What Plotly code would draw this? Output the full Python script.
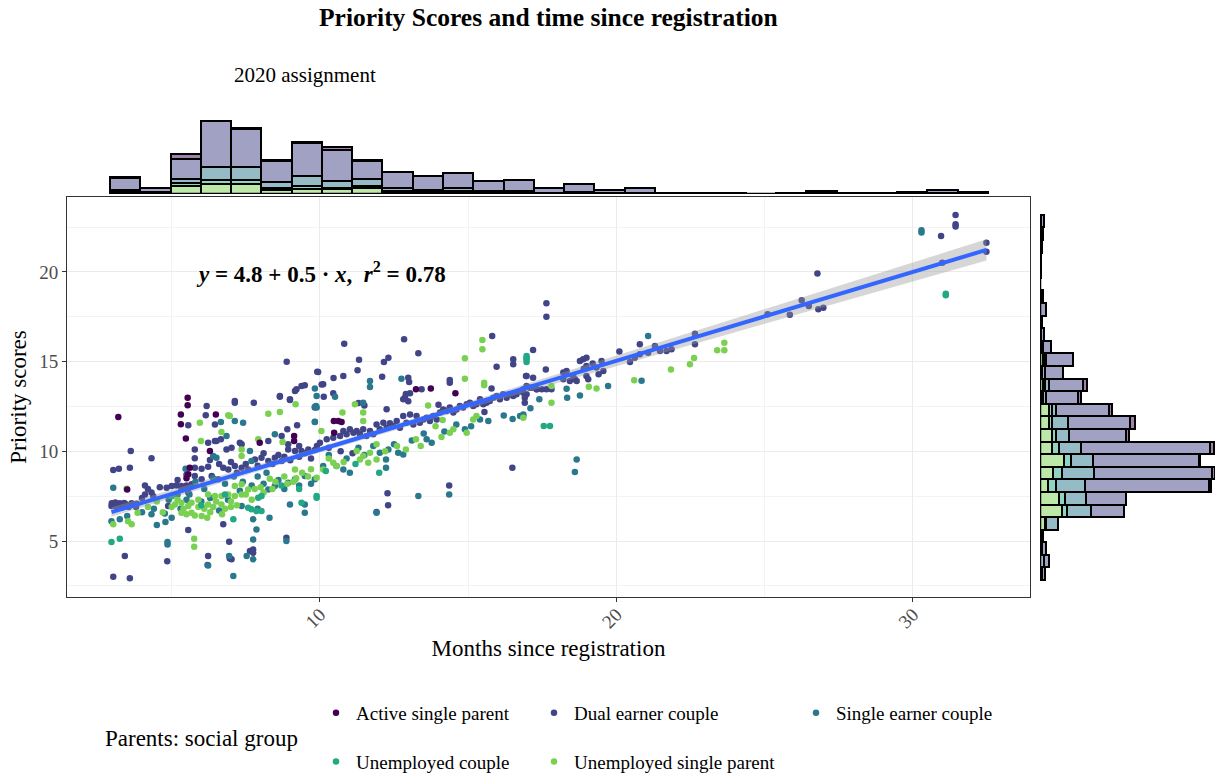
import numpy as np
import plotly.graph_objects as go

# ---------------- data ----------------
groups = ["Active single parent", "Dual earner couple", "Single earner couple",
          "Unemployed couple", "Unemployed single parent"]
group_colors = ["#440154", "#414487", "#2A788E", "#22A884", "#7AD151"]
hist_fill = ["rgba(68,1,84,0.5)", "rgba(65,68,135,0.5)", "rgba(42,120,142,0.5)",
             "rgba(34,168,132,0.5)", "rgba(122,209,81,0.5)"]

active_single_xy = [(3.2,11.92),(5.54,12.99),(5.54,12.57),(5.31,12.06),(5.31,11.51),(5.48,10.71),
    (6.49,12.06),(5.56,8.72),(5.61,9.09),(6.29,10.02),(9.13,10.86),(9.13,10.58),(3.5,7.88),(7.97,10.48),
    (10.47,11.69),(10.62,11.69),(10.73,11.64),(10.48,11.04),(13.24,13.46),(13.74,13.51),(14.57,13.24),(5.5,8.5)]

dual_earner_xy = [(3.03,3.01),(3.59,2.92),(3.42,4.16),(4.85,3.88),(6.23,4.16),(6.21,3.66),(6.96,4.03),
    (7.02,3.98),(7.64,4.44),(7.75,4.53),(6.74,5.93),(6.94,4.96),(5.56,5.61),
    (3.03,8.96),(3.22,9.03),(3.59,9.09),(3.62,10.02),(4.32,9.61),
    (2.97,6.95),(3.05,7.05),(3.15,6.9),(3.25,7.1),(3.35,6.95),(3.45,7.05),(3.55,6.9),(3.65,7.1),
    (3.75,7.0),(3.82,7.08),(3.1,7.15),(3.4,7.12),(3.0,7.0),(3.3,6.85),(3.6,7.0),(3.8,6.9),(4.0,7.4),
    (4.1,7.6),(2.98,7.1),
    (4.32,7.7),(4.38,7.5),(4.83,7.97),(5.0,8.07),(5.16,8.1),(5.33,8.07),(5.5,8.1),(5.67,8.16),(4.88,6.95),
    (5.78,9.61),(5.78,10.11),(6.23,10.48),(6.46,10.58),(6.29,9.52),(6.18,12.53),(7.13,12.81),(7.13,12.71),
    (7.77,12.71),(5.56,11.45),(6.15,12.01),(6.46,11.5),(6.51,10.58),(6.66,10.67),(6.85,10.11),(7.02,10.2),
    (6.74,9.09),(6.91,8.99),(7.13,9.18),(7.36,9.09),(7.58,8.99),
    (7.81,9.55),(8.03,9.65),(8.26,9.46),(8.48,9.65),(8.71,9.46),
    (8.93,10.11),(9.16,10.02),(9.38,10.02),(9.61,10.11),(9.83,10.07),
    (8.65,13.05),(9.16,13.37),(9.38,13.64),(9.49,13.68),(9.21,13.46),(8.99,12.86),(8.9,11.23),(9.23,11.45),
    (7.3,10.48),(7.36,10.39),(5.78,9.09),(6.01,9.03),(6.23,9.14),(5.33,7.88),(5.56,7.7),(5.78,8.62),
    (6.01,8.44),(6.35,8.62),(6.57,8.44),(8.26,10.58),(8.71,10.86),(8.93,10.39),(8.87,5.19),(7.75,4.35),
    (8.88,15.0),(9.94,14.42),(10.11,13.74),(8.65,13.08),(8.99,12.9),
    (6.6,9.3),(7.0,9.4),(7.2,8.8),(7.5,9.3),(7.9,9.2),(8.1,9.9),(8.4,9.3),(8.6,9.8),(8.8,9.7),(9.0,9.5),
    (9.3,9.7),(9.5,9.9),(9.7,9.6),(9.9,10.3),(9.3,10.3),(5.2,8.4),(5.5,8.7),(4.6,8.0),(4.2,7.9),(4.1,8.1),
    (10.82,16.0),(12.84,16.25),(13.32,15.47),(11.32,15.11),(12.16,14.98),(12.31,15.22),(9.91,14.44),
    (10.46,14.09),(10.79,14.2),(11.27,14.52),(12.1,14.16),(12.98,14.11),(13.01,13.87),(10.06,13.72),
    (10.13,13.05),(10.45,13.24),(9.83,12.44),(12.87,13.0),(13.04,13.24),(13.43,13.46),(14.38,13.98),
    (14.38,13.83),(15.81,16.43),(15.96,14.72),(16.52,15.13),(16.52,14.85),(16.95,14.2),(15.79,13.51),
    (16.49,9.09),(14.36,8.1),(12.28,7.66),(12.3,6.99),(11.91,6.62),
    (10.79,11.13),(11.01,11.23),(11.24,11.13),(11.46,11.23),(11.69,11.13),(11.91,11.5),(12.14,11.6),
    (12.36,11.56),(12.59,11.69),(12.81,11.97),(13.04,12.06),(13.26,11.97),(13.49,11.78),(13.71,11.69),
    (13.94,11.78),(14.16,12.34),(14.38,12.44),(14.61,12.34),(14.83,12.44),(15.06,12.71),(15.28,12.62),
    (15.51,12.62),(15.73,12.81),(15.96,13.09),(16.18,13.18),(16.41,13.18),(16.63,13.18),(16.86,13.27),
    (17.08,13.55),(17.31,13.46),
    (10.0,10.48),(10.23,10.67),(10.45,10.76),(10.68,10.86),(10.9,10.95),(11.13,11.04),(11.35,10.95),
    (11.57,10.86),(11.8,10.95),(12.02,11.23),(12.25,11.32),(12.47,11.41),(12.7,11.32),(12.92,11.6),
    (13.15,11.5),(13.37,11.6),(13.6,11.88),(13.82,11.97),(14.05,12.16),(14.27,12.25),(14.5,12.16),
    (14.72,12.53),(14.95,12.62),(15.17,12.53),(15.4,12.9),(15.62,12.71),(15.85,12.99),(16.07,12.9),
    (16.3,12.99),(16.52,13.09),(16.75,13.36),(16.97,13.18),
    (12.81,12.9),(12.98,12.8),(11.3,12.7),(11.5,12.55),(12.25,12.35),(12.9,13.2),(14.0,12.6),(15.55,12.2),
    (10.3,10.2),(10.7,10.0),(11.1,9.9),
    (17.64,18.25),(17.64,17.51),(17.19,15.65),(17.62,14.57),(16.97,14.2),(17.19,14.11),
    (16.86,13.46),(16.97,13.64),(17.14,13.55),(17.31,13.46),(17.48,13.46),(17.64,13.46),(17.81,13.46),
    (16.91,12.99),(16.91,12.71),
    (18.21,14.39),(18.32,14.48),(18.54,14.2),(18.6,14.02),(18.77,15.04),(18.88,15.13),(18.99,15.22),
    (18.99,14.76),(18.99,14.2),(19.05,14.02),(19.33,14.67),(19.5,15.04),(19.56,14.48),
    (18.21,14.02),(18.43,13.92),(18.66,13.92),(18.9,14.6),(19.2,14.9),(19.4,14.3),
    (20.1,15.56),(20.46,14.98),(20.62,15.22),(20.79,15.97),(20.79,15.41),(21.07,15.5),(21.3,15.87),
    (21.47,15.6),(21.69,15.6),(21.86,15.69),(22.65,16.56),(22.65,15.97),
    (25.1,17.64),(25.85,17.62),(26.25,18.42),(26.49,18.1),(26.81,17.92),(26.98,18.01),(26.78,19.92),
    (30.95,22.0),(31.44,23.18),(31.44,22.66),(31.44,22.53),(32.48,21.63),(32.48,21.13),(30.99,20.52)]

single_earner_xy = [(3.03,7.97),(2.97,6.11),(3.25,6.21),(4.32,6.49),(4.77,6.54),(4.79,6.06),(4.86,4.94),
    (4.86,4.81),(5.47,9.03),(6.66,11.64),(7.13,11.69),(7.41,11.6),(6.4,9.74),(6.51,9.65),(7.64,10.02),
    (7.69,9.46),(6.85,10.86),(6.23,3.64),(6.94,4.16),(7.08,3.05),(7.53,4.16),(7.75,3.98),(7.75,6.21),
    (7.86,5.65),(7.75,5.09),(8.48,10.95),(8.26,7.88),(8.48,8.07),(8.93,8.25),(9.16,8.44),(9.49,8.62),
    (9.83,8.44),(8.99,7.04),(9.49,7.04),(9.49,6.58),(9.83,12.49),(9.89,13.09),(9.83,11.64),(8.87,5.0),
    (7.36,6.95),(9.83,13.51),(9.87,12.53),
    (12.75,14.05),(11.69,13.92),(11.69,13.59),(9.89,12.44),(9.83,11.65),(11.46,12.71),(10.51,13.05),
    (12.23,9.55),(12.23,9.09),(12.64,9.92),(12.81,9.83),(13.32,7.51),(14.36,7.6),(16.75,11.97),
    (16.86,11.97),(11.91,6.58),(13.6,10.67),(13.77,10.48),(11.8,10.3),(12.02,9.92),(12.31,10.11),
    (10.79,8.99),(11.01,8.81),(10.11,9.18),(10.56,9.18),(14.89,11.23),(15.4,11.78),(15.68,11.69),
    (18.32,13.49),(18.34,12.99),(18.77,13.12),(19.72,13.64),(20.85,13.94),(21.07,16.43),(18.66,9.55),
    (18.6,8.85),(16.86,12.06),(30.29,22.32),(30.29,22.2),
    (5.8,8.3),(6.1,7.9),(6.4,8.5),(6.8,8.2),(7.1,8.6),(7.4,8.3),(7.9,8.6),(8.2,8.8),(8.6,8.4),(5.2,7.6),
    (5.5,7.3),(6.0,7.2),(10.3,9.8),(10.9,9.6),(11.3,10.2),(11.5,9.8),(12.5,10.4),(13.1,10.6),(13.5,11.0),
    (14.2,11.1),(14.6,11.5),(15.1,11.4),(16.2,12.0),(16.5,11.8),(17.1,12.4),(17.4,12.9),
    (3.5,6.4),(4.0,6.6),(5.0,6.3),(5.3,6.8),(6.6,6.7),(7.9,6.8),(8.3,6.3),(4.5,5.9),
    (4.4,6.8),(4.9,7.3),(5.6,7.6),(6.3,7.4),(6.9,7.3),(7.3,7.8),(7.7,8.1),(8.1,8.2),(8.8,7.9),(9.3,8.1),
    (9.7,8.2)]

unemployed_couple_xy = [(2.97,4.94),(3.25,5.13),(7.08,6.21),(7.69,6.77),(7.86,6.67),(8.03,6.67),
    (7.92,7.42),(8.03,7.51),(9.89,7.42),(7.58,6.86),(16.97,15.13),(16.97,15.32),(9.89,7.51),(16.97,15.22),
    (16.97,14.98),(17.55,11.41),(17.76,11.41),(31.11,18.79),(31.11,18.7),(9.38,7.14),
    (5.0,7.5),(6.0,7.0),(6.8,7.6),(8.7,8.1),(9.3,7.9),(10.2,8.9),(11.2,9.3),(12.0,8.8)]

unemployed_single_xy = [(3.48,7.92),(3.03,5.93),(3.53,6.11),(3.65,5.93),(3.85,6.58),(5.11,7.04),
    (5.33,7.14),(5.33,6.58),(5.67,7.14),(5.67,6.58),(5.78,6.43),(5.56,6.95),(6.01,6.39),(5.76,5.13),
    (5.76,4.68),(5.95,11.6),(5.99,10.58),(6.91,12.01),(6.96,11.97),(6.68,11.08),(7.36,10.11),(7.36,9.74),
    (7.13,8.07),(7.36,8.16),(6.23,7.6),(6.46,7.51),(6.68,7.51),(6.91,7.6),(6.23,7.04),(6.68,7.04),
    (7.13,7.51),(7.36,7.6),(7.58,7.88),(7.92,10.67),(8.26,12.1),(8.65,12.19),(9.18,12.62),(8.74,10.52),
    (8.31,8.47),(9.16,8.99),(9.89,8.53),(10.05,11.13),(10.11,8.99),
    (15.48,16.21),(15.48,15.69),(14.89,15.19),(14.89,14.05),(15.54,13.83),(15.54,13.68),(13.65,12.56),
    (14.14,11.75),(14.38,11.04),(14.5,11.23),(14.95,11.04),(15.17,11.78),(15.28,11.97),(10.76,12.16),
    (11.18,12.62),(11.46,12.16),(11.46,11.69),(11.91,10.39),(11.24,10.02),(11.46,9.74),(11.69,9.92),
    (11.35,9.55),(11.63,9.37),(11.91,9.55),(10.45,9.37),(10.56,9.18),(13.24,10.67),
    (17.81,13.64),(17.81,12.71),(16.86,11.88),(19.07,13.6),(19.33,13.51),(20.6,13.96),(21.84,14.57),
    (22.48,14.85),(22.62,15.2),(23.4,15.63),(23.64,16.06),(23.64,15.63),
    (5.2,7.3),(5.4,6.8),(5.9,7.3),(6.1,6.8),(6.3,6.6),(6.5,7.2),(6.8,6.8),(7.0,7.2),(7.7,7.3),(8.0,8.0),
    (8.5,8.3),(8.8,8.6),(9.1,8.3),(9.4,8.8),(9.7,9.0),(10.3,9.6),(10.8,9.4),(12.2,10.0),(12.6,10.3),
    (12.9,10.1),(13.4,10.3),(13.9,11.4),(14.1,10.8),
    (4.2,6.9),(4.5,7.2),(4.7,6.6),(5.0,6.9),(5.5,6.5),(5.9,6.9),(6.2,6.3),(6.4,6.9),(6.7,6.5),(7.0,6.9),
    (7.2,7.0),(7.5,7.6),(7.8,7.9),(8.1,7.7),(8.4,7.9),(8.9,8.2),(9.2,8.5),(9.6,8.6)]

# marginal histogram of months (29 bins), counts per group
month_bin_start = 2.92
month_bin_width = 1.021
month_counts = [
    [2,0,8,2,2,2,2,5,1,1,0,0,0,0,0,0,0,0,0,0,0,0,0,0,0,0,0,0,0],
    [20,7,34,78,65,36,56,54,32,26,24,26,17,19,9,14,5,9,2,2,2,0,2,4,2,2,2,5,3],
    [3,2,7,23,22,9,17,11,11,6,3,5,3,3,2,2,2,2,0,0,0,0,0,1,0,0,2,0,0],
    [2,0,5,6,6,4,6,3,3,2,2,2,0,0,0,0,0,0,0,0,0,0,0,0,0,0,0,2,0],
    [2,2,14,18,18,7,8,8,11,3,2,3,2,2,0,2,0,0,0,0,0,0,0,0,0,0,0,0,0],
]

# marginal histogram of scores (29 bins, low -> high), counts per group
score_bin_start = 2.825
score_bin_width = 0.702
score_counts = [
    [0,0,0,0,0,0,0,2,3,1,4,3,5,3,3,4,0,0,0,0,0,0,0,0,0,0,0,0,0],
    [3,5,4,1,0,33,40,124,118,106,129,57,62,53,32,34,18,27,8,3,1,6,1,0,1,1,2,2,3],
    [2,4,2,2,12,24,21,29,32,22,22,13,16,4,3,4,3,2,2,1,1,0,0,0,0,0,0,1,1],
    [0,0,0,0,1,5,6,8,9,7,7,4,3,3,1,2,1,1,0,0,0,0,2,0,0,0,0,0,0],
    [0,0,0,0,5,22,19,8,13,24,12,12,9,9,2,3,1,3,1,0,0,0,0,0,0,0,0,0,0],
]

equation_text = "<b><i>y</i> = 4.8 + 0.5 · <i>x</i>,&nbsp; <i>r</i><sup>2</sup> = 0.78</b>"

# ---------------- figure ----------------
W, H = 1217, 777
FONT = "Liberation Serif"

def px_x(p):
    return p / W

def px_y(p):
    return 1 - p / H

point_sets = [active_single_xy, dual_earner_xy, single_earner_xy,
              unemployed_couple_xy, unemployed_single_xy]

fig = go.Figure()

legend_of = ["legend", "legend2", "legend3", "legend", "legend2"]
draw_order = [1, 2, 4, 3, 0]
for gi in draw_order:
    pts = np.array(point_sets[gi])
    fig.add_trace(go.Scatter(
        x=pts[:, 0], y=pts[:, 1], mode="markers", name=groups[gi],
        marker=dict(color=group_colors[gi], size=6.5, line=dict(width=0)),
        legend=legend_of[gi], legendgroup=groups[gi], legendrank=gi,
        xaxis="x", yaxis="y"))

# regression fit with confidence band
all_pts = np.vstack([np.array(p) for p in point_sets])
xv, yv = all_pts[:, 0], all_pts[:, 1]
slope, intercept = np.polyfit(xv, yv, 1)
n = len(xv)
resid = yv - (intercept + slope * xv)
s = np.sqrt((resid ** 2).sum() / (n - 2))
xbar = xv.mean()
sxx = ((xv - xbar) ** 2).sum()
xs = np.linspace(xv.min(), xv.max(), 80)
fit = intercept + slope * xs
se = s * np.sqrt(1.0 / n + (xs - xbar) ** 2 / sxx)
upper, lower = fit + 1.96 * se, fit - 1.96 * se
fig.add_trace(go.Scatter(x=np.concatenate([xs, xs[::-1]]), y=np.concatenate([upper, lower[::-1]]),
                         fill="toself", fillcolor="rgba(153,153,153,0.4)", line=dict(width=0),
                         mode="lines", showlegend=False, hoverinfo="skip", xaxis="x", yaxis="y"))
fig.add_trace(go.Scatter(x=xs, y=fit, mode="lines", line=dict(color="#3366FF", width=4),
                         showlegend=False, xaxis="x", yaxis="y"))

# top marginal histogram (stack order: last group at bottom)
nb_m = len(month_counts[0])
month_centers = month_bin_start + month_bin_width * (np.arange(nb_m) + 0.5)
for gi in [4, 3, 2, 1, 0]:
    fig.add_trace(go.Bar(x=month_centers, y=month_counts[gi], width=month_bin_width,
                         marker=dict(color=hist_fill[gi], line=dict(color="black", width=2)),
                         showlegend=False, xaxis="x2", yaxis="y2"))
m_edges = [month_bin_start, month_bin_start + nb_m * month_bin_width]
fig.add_trace(go.Scatter(x=m_edges, y=[0, 0], mode="lines", line=dict(color="black", width=2.5),
                         showlegend=False, xaxis="x2", yaxis="y2"))

# right marginal histogram
nb_s = len(score_counts[0])
score_centers = score_bin_start + score_bin_width * (np.arange(nb_s) + 0.5)
for gi in [4, 3, 2, 1, 0]:
    fig.add_trace(go.Bar(y=score_centers, x=score_counts[gi], width=score_bin_width, orientation="h",
                         marker=dict(color=hist_fill[gi], line=dict(color="black", width=2)),
                         showlegend=False, xaxis="x3", yaxis="y3"))
s_edges = [score_bin_start, score_bin_start + nb_s * score_bin_width]
fig.add_trace(go.Scatter(x=[0, 0], y=s_edges, mode="lines", line=dict(color="black", width=2.5),
                         showlegend=False, xaxis="x3", yaxis="y3"))

month_max = np.array(month_counts).sum(axis=0).max()
score_max = np.array(score_counts).sum(axis=0).max()

main_xdom = [px_x(67), px_x(1030)]
main_ydom = [px_y(597), px_y(197)]
xrange_main = [1.47, 33.95]
yrange_main = [1.88, 24.18]

tickfont = dict(family=FONT, size=19, color="#4D4D4D")
legend_common = dict(yanchor="top", xanchor="left", orientation="v", traceorder="grouped",
                     tracegroupgap=21, font=dict(family=FONT, size=19, color="black"),
                     itemwidth=30, bgcolor="rgba(0,0,0,0)")
fig.update_layout(
    width=W, height=H, margin=dict(l=0, r=0, t=0, b=0, autoexpand=False),
    plot_bgcolor="white", paper_bgcolor="white", barmode="stack", bargap=0,
    font=dict(family=FONT, color="black"),
    xaxis=dict(domain=main_xdom, range=xrange_main, anchor="y", tick0=0, dtick=10, automargin=False,
               ticks="outside", ticklen=4, tickwidth=1, tickcolor="#333333", tickangle=-45,
               ticklabelstandoff=-6,
               tickfont=tickfont, showgrid=True, gridcolor="#EBEBEB", gridwidth=1.1,
               minor=dict(dtick=5, tick0=0, showgrid=True, gridcolor="#F3F3F3", gridwidth=0.6, ticks=""),
               showline=True, mirror=True, linecolor="#333333", linewidth=1, zeroline=False,
               title=dict(text="Months since registration", font=dict(family=FONT, size=23, color="black"),
                          standoff=8)),
    yaxis=dict(domain=main_ydom, range=yrange_main, anchor="x", tick0=0, dtick=5, automargin=False,
               ticks="outside", ticklen=4, tickwidth=1, tickcolor="#333333",
               tickfont=tickfont, showgrid=True, gridcolor="#EBEBEB", gridwidth=1.1,
               minor=dict(dtick=2.5, tick0=0, showgrid=True, gridcolor="#F3F3F3", gridwidth=0.6, ticks=""),
               showline=True, mirror=True, linecolor="#333333", linewidth=1, zeroline=False,
               title=dict(text="Priority scores", font=dict(family=FONT, size=23, color="black"),
                          standoff=6)),
    xaxis2=dict(domain=main_xdom, range=xrange_main, anchor="y2", visible=False),
    yaxis2=dict(domain=[px_y(194), px_y(120)], range=[0, month_max], anchor="x2", visible=False),
    xaxis3=dict(domain=[px_x(1040), px_x(1215)], range=[0, score_max], anchor="y3", visible=False),
    yaxis3=dict(domain=main_ydom, range=yrange_main, anchor="x3", visible=False),
    legend=dict(x=px_x(316), y=px_y(694), **legend_common),
    legend2=dict(x=px_x(534), y=px_y(694), **legend_common),
    legend3=dict(x=px_x(796), y=px_y(694), **legend_common),
)

fig.add_annotation(text="<b>Priority Scores and time since registration</b>", x=px_x(548.5), y=px_y(18),
                   xref="paper", yref="paper", showarrow=False, xanchor="center", yanchor="middle",
                   font=dict(family=FONT, size=25.5, color="black"))
fig.add_annotation(text="2020 assignment", x=px_x(232), y=px_y(75), xref="paper", yref="paper",
                   showarrow=False, xanchor="left", yanchor="middle",
                   font=dict(family=FONT, size=21, color="black"))
fig.add_annotation(text=equation_text, x=px_x(321), y=px_y(272), xref="paper", yref="paper",
                   showarrow=False, xanchor="center", yanchor="middle",
                   font=dict(family=FONT, size=23, color="black"))
fig.add_annotation(text="Parents: social group", x=px_x(103), y=px_y(738), xref="paper", yref="paper",
                   showarrow=False, xanchor="left", yanchor="middle",
                   font=dict(family=FONT, size=23, color="black"))

fig.write_html("out.html", config={"displayModeBar": False},
               post_script="document.body.style.margin='0px';document.body.style.overflow='hidden';")
